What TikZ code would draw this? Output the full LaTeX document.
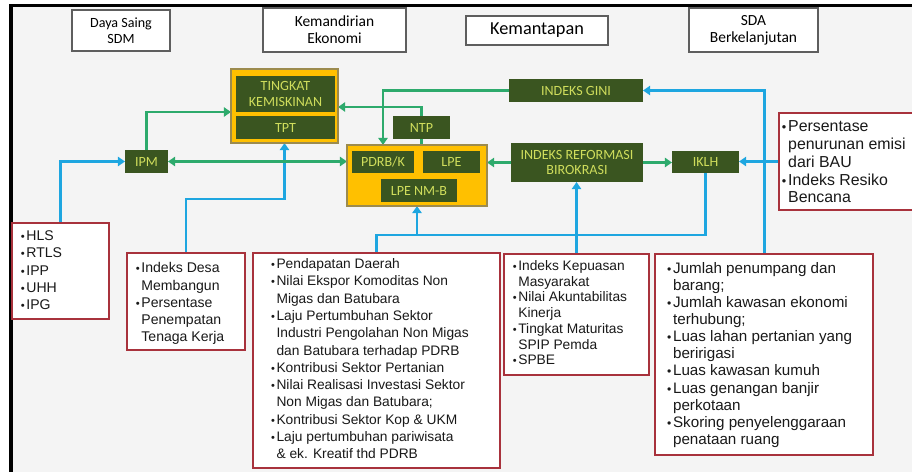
\documentclass[tikz,border=0pt]{standalone}
\usepackage{fontspec}
\setmainfont{Liberation Sans}
\newfontfamily\calib{Carlito}
\usetikzlibrary{positioning,arrows.meta,calc}
\definecolor{pagebg}{HTML}{F4F4F4}
\definecolor{dkgreen}{HTML}{3A5520}
\definecolor{limetxt}{HTML}{CFDD5C}
\definecolor{gold}{HTML}{FFC000}
\definecolor{goldedge}{HTML}{9C8B4E}
\definecolor{lnblue}{HTML}{1EA6E0}
\definecolor{lngreen}{HTML}{2DAA6C}
\definecolor{redln}{HTML}{A8323C}
\definecolor{hdrgray}{HTML}{5E5E5E}
\pgfdeclarelayer{bg}
\pgfdeclarelayer{lines}
\pgfsetlayers{bg,lines,main}
\tikzset{hdr/.style={draw=hdrgray, fill=white, line width=0.9pt, align=center, inner sep=1pt, outer sep=0pt}}
\tikzset{gbox/.style={fill=dkgreen, text=limetxt, inner sep=1pt, outer sep=0pt, align=center, font={\calib\fontsize{10}{11}\selectfont}}}
\tikzset{ybox/.style={fill=gold, draw=goldedge, line width=0.8pt, inner sep=0pt, outer sep=0pt}}
\tikzset{lst/.style={draw=redln, fill=white, line width=0.9pt, anchor=north west, outer sep=0pt, text=black!90}}
\tikzset{blu/.style={draw=lnblue, line width=2.1pt}}
\tikzset{bluarr/.style={blu, -{Triangle[length=5pt,width=6.5pt]}}}
\tikzset{grn/.style={draw=lngreen, line width=2.1pt}}
\tikzset{grnarr/.style={grn, -{Triangle[length=5pt,width=6.5pt]}}}
\newcommand\bul{\makebox[0.4em][l]{\scalebox{0.8}{\textbullet}}}
\newcommand\hng{\hspace*{0.4em}}

\begin{document}
\begin{tikzpicture}[x=0.025cm, y=-0.025cm]
	\useasboundingbox (0,0) rectangle (912,472);
	\begin{pgfonlayer}{bg}
		\fill[pagebg] (11,6) rectangle (912,472);
		\draw[line width=2.4pt] (11,472) -- (11,5.7) -- (912,5.7);
	\end{pgfonlayer}

	% headers
	\node[hdr, minimum width=2.45cm, minimum height=1.025cm, font={\calib\fontsize{10}{11}\selectfont}] (hdrSDM) at (121,30.5) {Daya Saing\\SDM};
	\node[hdr, minimum width=3.575cm, minimum height=1.1cm, font={\calib\fontsize{11}{12.3}\selectfont}] (hdrEko) at (334.5,30) {Kemandirian\\Ekonomi};
	\node[hdr, minimum width=3.55cm, minimum height=0.725cm, font={\calib\fontsize{13}{14}\selectfont}] (hdrMantap) at (537,30.5) {Kemantapan};
	\node[hdr, minimum width=3.225cm, minimum height=1.1cm, font={\calib\fontsize{11}{12}\selectfont}] (hdrSDA) at (753.5,30) {SDA\\Berkelanjutan};

	% yellow groups
	\node[ybox, minimum width=2.675cm, minimum height=1.85cm] (ykemis) at (284.5,106) {};
	\node[gbox, minimum width=2.475cm, minimum height=0.9cm] (kemis) at (285.5,94) {TINGKAT\\KEMISKINAN};
	\node[gbox, minimum width=2.475cm, minimum height=0.575cm] (tpt) at (285.5,127.5) {TPT};
	\node[ybox, minimum width=3.5cm, minimum height=1.525cm] (ypdrb) at (417,175.5) {};
	\node[gbox, minimum width=1.55cm, minimum height=0.55cm] (pdrbk) at (383,162) {PDRB/K};
	\node[gbox, minimum width=1.425cm, minimum height=0.55cm] (lpe) at (451.5,162) {LPE};
	\node[gbox, minimum width=1.9cm, minimum height=0.575cm] (lpenmb) at (419,190.5) {LPE NM-B};

	% indicators
	\node[gbox, minimum width=1.425cm, minimum height=0.575cm] (ntp) at (421.5,127.5) {NTP};
	\node[gbox, minimum width=1.075cm, minimum height=0.575cm] (ipm) at (146.5,161.5) {IPM};
	\node[gbox, minimum width=3.35cm, minimum height=0.575cm] (gini) at (576,90.5) {INDEKS GINI};
	\node[gbox, minimum width=3.3cm, minimum height=0.975cm] (irb) at (577,162.5) {INDEKS REFORMASI\\BIROKRASI};
	\node[gbox, minimum width=1.675cm, minimum height=0.55cm] (iklh) at (705.5,162) {IKLH};

	% lists
	\node[lst, inner xsep=0.22cm, inner ysep=0.2cm, font={\fontsize{10}{12.2}\selectfont}] (lstHLS) at (12,223)
		{\parbox[c][2.0cm][t]{1.985cm}{\bul HLS\\ \bul RTLS\\ \bul IPP\\ \bul UHH\\ \bul IPG}};
	\node[lst, inner xsep=0.22cm, inner ysep=0.24cm, font={\fontsize{10}{12.3}\selectfont}] (lstDesa) at (127,253)
		{\parbox[c][1.945cm][t]{2.51cm}{\bul Indeks Desa\\ \hng Membangun\\ \bul Persentase\\ \hng Penempatan\\ \hng Tenaga Kerja}};
	\node[lst, inner xsep=0.45cm, inner ysep=0.14cm, font={\fontsize{9.8}{12.3}\selectfont}] (lstPend) at (253,253)
		{\parbox[c][5.095cm][t]{5.275cm}{\bul Pendapatan Daerah\\ \bul Nilai Ekspor Komoditas Non\\ \hng Migas dan Batubara\\
		\bul Laju Pertumbuhan Sektor\\ \hng Industri Pengolahan Non Migas\\ \hng dan Batubara terhadap PDRB\\
		\bul Kontribusi Sektor Pertanian\\ \bul Nilai Realisasi Investasi Sektor\\ \hng Non Migas dan Batubara;\\
		\bul Kontribusi Sektor Kop \& UKM\\ \bul Laju pertumbuhan pariwisata\\ \hng \& ek. Kreatif thd PDRB}};
	\node[lst, inner xsep=0.22cm, inner ysep=0.16cm, font={\fontsize{9.8}{11.2}\selectfont}] (lstKep) at (504,254)
		{\parbox[c][2.705cm][t]{3.185cm}{\bul Indeks Kepuasan\\ \hng Masyarakat\\ \bul Nilai Akuntabilitas\\ \hng Kinerja\\
		\bul Tingkat Maturitas\\ \hng SPIP Pemda\\ \bul SPBE}};
	\node[lst, inner xsep=0.3cm, inner ysep=0.2cm, font={\fontsize{10.8}{12.2}\selectfont}] (lstJml) at (655,254)
		{\parbox[c][4.625cm][t]{4.85cm}{\bul Jumlah penumpang dan\\ \hng barang;\\ \bul Jumlah kawasan ekonomi\\ \hng terhubung;\\
		\bul Luas lahan pertanian yang\\ \hng beririgasi\\ \bul Luas kawasan kumuh\\ \bul Luas genangan banjir\\ \hng perkotaan\\
		\bul Skoring penyelenggaraan\\ \hng penataan ruang}};
	\node[lst, inner xsep=0.07cm, inner ysep=0.2cm, font={\fontsize{11.3}{12.6}\selectfont}] (lstRisk) at (779,113)
		{\parbox[c][2.025cm][t]{3.385cm}{\bul Persentase\\ \hng penurunan emisi\\ \hng dari BAU\\ \bul Indeks Resiko\\ \hng Bencana}};

	\coordinate (desaTurn) at (284.5,199);
	\coordinate (busL) at (376.5,235);
	\coordinate (ipmUp) at (146.5,112);
	\coordinate (ntpUp) at (421.5,107);

	\begin{pgfonlayer}{lines}
		% blue links
		\draw[bluarr] (lstHLS.north) |- (ipm.west);
		\draw[bluarr] (lstDesa.north) |- (desaTurn) -- (ykemis.south);
		\draw[blu] (lstPend.north) |- (iklh.south |- busL) -- (iklh.south);
		\draw[bluarr] (ypdrb.south |- busL) -- (ypdrb.south);
		\draw[bluarr] (lstKep.north) -- (lstKep.north |- irb.south);
		\draw[bluarr] (lstJml.north) |- (gini.east);
		\draw[bluarr] (lstRisk.west) -- (lstRisk.west -| iklh.east);
		% green links
		\draw[grnarr] (ipm.north) -- (ipmUp) -- (ipmUp -| ykemis.west);
		\draw[grnarr, {Triangle[length=5pt,width=6.5pt]}-{Triangle[length=5pt,width=6.5pt]}] (ipm.east) -- (ipm.east -| ypdrb.west);
		\draw[grnarr] (ntp.north) -- (ntpUp) -- (ntpUp -| ykemis.east);
		\draw[grn] (ntp.south) -- (ntp.south |- ypdrb.north);
		\draw[grnarr] (gini.west) -| (pdrbk.north |- ypdrb.north);
		\draw[grnarr] (irb.west) -- (irb.west -| ypdrb.east);
		\draw[grnarr] (irb.east) -- (irb.east -| iklh.west);
	\end{pgfonlayer}
\end{tikzpicture}
\end{document}
